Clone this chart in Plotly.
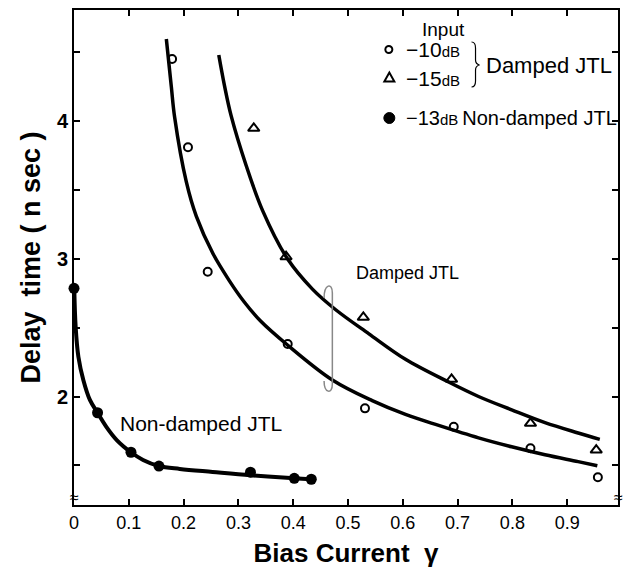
import plotly.graph_objects as go

# ---------------- data ----------------
# Non-damped JTL, input -13 dB (filled circles)
nd_x = [0.0, 0.043, 0.104, 0.155, 0.322, 0.402, 0.433]
nd_y = [2.786, 1.882, 1.595, 1.495, 1.45, 1.406, 1.399]
# hand-drawn fit through the non-damped points
nd_fit_x = [0.0005, 0.003, 0.008, 0.017, 0.029, 0.043, 0.059, 0.078, 0.104,
            0.126, 0.155, 0.193, 0.253, 0.322, 0.402, 0.433]
nd_fit_y = [2.786, 2.507, 2.289, 2.12, 1.975, 1.882, 1.78, 1.684, 1.595,
            1.539, 1.495, 1.474, 1.452, 1.428, 1.406, 1.399]

# Damped JTL, input -10 dB (open circles)
d10_x = [0.179, 0.208, 0.244, 0.39, 0.531, 0.693, 0.833, 0.956]
d10_y = [4.451, 3.81, 2.906, 2.381, 1.914, 1.78, 1.624, 1.413]
d10_fit_x = [0.1685, 0.1776, 0.1836, 0.2049, 0.2231, 0.2533, 0.2836, 0.31,
             0.34, 0.3896, 0.4715, 0.5442, 0.6049, 0.6655, 0.7382, 0.7987,
             0.8595, 0.92, 0.955]
d10_fit_y = [4.596, 4.25, 4.03, 3.56, 3.31, 3.04, 2.84, 2.69,
             2.55, 2.374, 2.12, 1.97, 1.87, 1.79, 1.70, 1.635,
             1.577, 1.527, 1.497]

# Damped JTL, input -15 dB (open triangles)
d15_x = [0.328, 0.387, 0.528, 0.689, 0.833, 0.953]
d15_y = [3.948, 3.015, 2.575, 2.125, 1.805, 1.611]
d15_fit_x = [0.2642, 0.2745, 0.2867, 0.314, 0.3442, 0.3896, 0.4351, 0.4776,
             0.5382, 0.6049, 0.6836, 0.7382, 0.7987, 0.8595, 0.92, 0.9595]
d15_fit_y = [4.48, 4.26, 4.04, 3.68, 3.35, 3.0, 2.78, 2.63,
             2.455, 2.27, 2.105, 2.0, 1.903, 1.81, 1.735, 1.689]

# axis ticks
x_tickvals = [0, 0.1, 0.2, 0.3, 0.4, 0.5, 0.6, 0.7, 0.8, 0.9]
x_ticktext = ["0", "0.1", "0.2", "0.3", "0.4", "0.5", "0.6", "0.7", "0.8", "0.9"]
y_tickvals = [1.5, 2, 2.5, 3, 3.5, 4, 4.5]
y_ticktext = ["", "2", "", "3", "", "4", ""]

# ---------------- layout geometry ----------------
W, H = 626, 573
L, R, T, B = 74, 6, 10, 68
PW, PH = W - L - R, H - T - B
FONT = "Liberation Sans"


def px(xp):
    return (xp - L) / PW


def py(yp):
    return (H - B - yp) / PH


fig = go.Figure()

# fits
for fx, fy, w in [(nd_fit_x, nd_fit_y, 4), (d10_fit_x, d10_fit_y, 3.5),
                  (d15_fit_x, d15_fit_y, 3.5)]:
    fig.add_trace(go.Scatter(x=fx, y=fy, mode="lines",
                             line=dict(color="black", width=w, shape="spline", smoothing=1),
                             hoverinfo="skip", showlegend=False, cliponaxis=False))

# points
fig.add_trace(go.Scatter(x=nd_x, y=nd_y, mode="markers", name="-13dB Non-damped JTL",
                         marker=dict(symbol="circle", size=11, color="black"),
                         showlegend=False, cliponaxis=False))
fig.add_trace(go.Scatter(x=d10_x, y=d10_y, mode="markers", name="-10dB Damped JTL",
                         marker=dict(symbol="circle-open", size=8, color="black",
                                     line=dict(width=2, color="black")),
                         showlegend=False, cliponaxis=False))
fig.add_trace(go.Scatter(x=d15_x, y=d15_y, mode="markers", name="-15dB Damped JTL",
                         marker=dict(symbol="triangle-up-open", size=10, color="black",
                                     line=dict(width=2, color="black")),
                         showlegend=False, cliponaxis=False))

shapes = []
# bracket marking the damped curves
bx, bl = px(333.3), px(325)
shapes.append(dict(type="path", xref="paper", yref="paper",
                   path=(f"M {bl},{py(298)} C {bl},{py(284)} {bx},{py(282)} {bx},{py(293)} "
                         f"L {bx},{py(384)} C {bx},{py(395)} {bl},{py(393)} {bl},{py(381)}"),
                   line=dict(color="#888888", width=1.5)))
# legend brace
shapes.append(dict(type="path", xref="paper", yref="paper",
                   path=(f"M {px(473)},{py(42)} Q {px(477)},{py(42)} {px(477)},{py(48)} "
                         f"L {px(477)},{py(60)} Q {px(477)},{py(64)} {px(481)},{py(65)} "
                         f"Q {px(477)},{py(66)} {px(477)},{py(70)} L {px(477)},{py(81)} "
                         f"Q {px(477)},{py(87)} {px(473)},{py(87)}"),
                   line=dict(color="black", width=1.2)))
# legend symbols
shapes.append(dict(type="circle", xref="paper", yref="paper", xsizemode="pixel", ysizemode="pixel",
                   xanchor=px(390), yanchor=py(49.5), x0=-3.5, x1=3.5, y0=-3.5, y1=3.5,
                   line=dict(color="black", width=2)))
shapes.append(dict(type="path", xref="paper", yref="paper", xsizemode="pixel", ysizemode="pixel",
                   xanchor=px(390.5), yanchor=py(77.5),
                   path="M -5,-4 L 5,-4 L 0,5 Z", line=dict(color="black", width=2)))
shapes.append(dict(type="circle", xref="paper", yref="paper", xsizemode="pixel", ysizemode="pixel",
                   xanchor=px(390.5), yanchor=py(118), x0=-5.5, x1=5.5, y0=-5.5, y1=5.5,
                   fillcolor="black", line=dict(color="black", width=1)))

small = "<span style='font-size:15px'>dB</span>"
ann = []


def text(t, xp, yp, size, anchor="left", weight="normal"):
    ann.append(dict(text=t, x=px(xp), y=py(yp), xref="paper", yref="paper",
                    xanchor=anchor, yanchor="middle", showarrow=False,
                    font=dict(family=FONT, size=size, color="black", weight=weight)))


text("Input", 445, 29, 19, "center")
text("\u221210" + small, 405, 50, 21)
text("\u221215" + small, 405, 78, 21)
text("Damped JTL", 486, 66, 22)
text("\u221213" + small + "\u2009Non-damped JTL", 405, 118, 20)
text("Damped JTL", 355, 273, 18)
text("Non-damped JTL", 118, 423, 21)
text("\u2248", 74, 497, 16, "center")
text("\u2248", 620, 497, 16, "center")

fig.update_layout(
    width=W, height=H, autosize=False,
    margin=dict(l=L, r=R, t=T, b=B, pad=0),
    paper_bgcolor="white", plot_bgcolor="white",
    showlegend=False, shapes=shapes, annotations=ann,
    xaxis=dict(range=[0, PW / 550], tickvals=x_tickvals, ticktext=x_ticktext,
               ticks="inside", ticklen=6, tickwidth=1.5, tickcolor="black",
               showline=True, linecolor="black", linewidth=2, mirror="ticks",
               showgrid=False, zeroline=False,
               tickfont=dict(family=FONT, size=18, color="black"),
               title=dict(text="Bias Current  \u03b3", standoff=12,
                          font=dict(family=FONT, size=26, color="black", weight="bold"))),
    yaxis=dict(range=[1.212, 4.807], tickvals=y_tickvals, ticktext=y_ticktext,
               ticks="inside", ticklen=6, tickwidth=1.5, tickcolor="black",
               showline=True, linecolor="black", linewidth=2, mirror="ticks",
               showgrid=False, zeroline=False,
               tickfont=dict(family=FONT, size=20, color="black", weight="bold"),
               title=dict(text="Delay  time ( n sec )", standoff=8,
                          font=dict(family=FONT, size=27, color="black", weight="bold"))),
)

fig.write_html("out.html")
